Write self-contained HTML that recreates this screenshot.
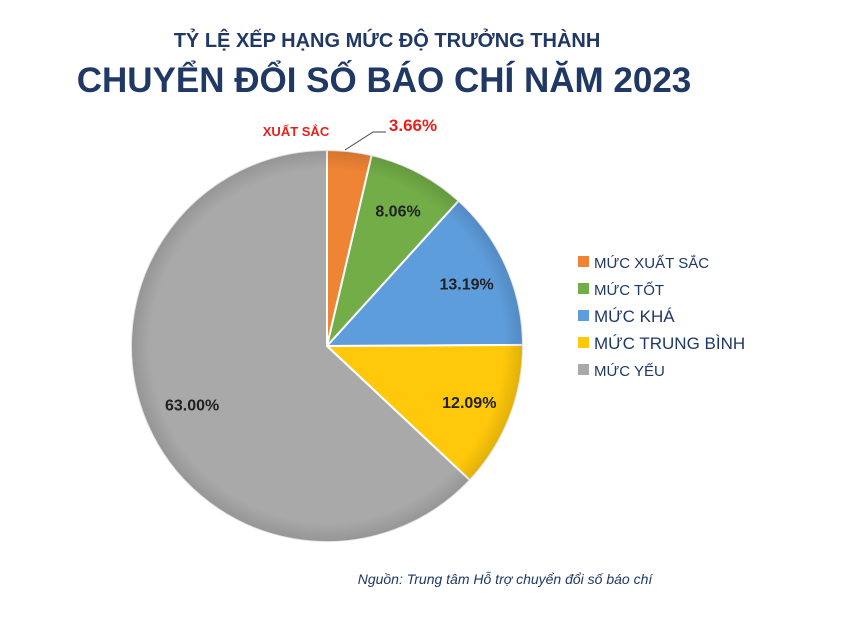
<!DOCTYPE html>
<html><head><meta charset="utf-8"><style>
body{margin:0;background:#fff;width:849px;height:618px;overflow:hidden;font-family:"Liberation Sans","DejaVu Sans",sans-serif}
</style></head><body>
<svg width="849" height="618">
<defs>
<radialGradient id="sh" cx="50%" cy="50%" r="50%"><stop offset="0.9" stop-color="#000" stop-opacity="0"/><stop offset="1" stop-color="#000" stop-opacity="0.12"/></radialGradient>
</defs>
<text x="387" y="47" text-anchor="middle" font-size="20" font-weight="bold" fill="#1f3864">TỶ LỆ XẾP HẠNG MỨC ĐỘ TRƯỞNG THÀNH</text>
<text x="384" y="92" text-anchor="middle" font-size="35" font-weight="bold" fill="#1f3864">CHUYỂN ĐỔI SỐ BÁO CHÍ NĂM 2023</text>
<g id="pie"></g>
<text x="296" y="136" text-anchor="middle" font-size="13" font-weight="bold" fill="#e8201a">XUẤT SẮC</text>
<text x="413" y="131" text-anchor="middle" font-size="17" font-weight="bold" fill="#e8201a">3.66%</text>
<polyline points="345,150 373,132 386,132" fill="none" stroke="#444" stroke-width="1"/>
<g id="legend"></g>
<text x="505" y="584" text-anchor="middle" font-size="14" font-style="italic" fill="#1f3864">Nguồn: Trung tâm Hỗ trợ chuyển đổi số báo chí</text>
</svg>
<script>
const categories=["MỨC XUẤT SẮC","MỨC TỐT","MỨC KHÁ","MỨC TRUNG BÌNH","MỨC YẾU"];
const values=[3.66,8.06,13.19,12.09,63.00];
const labels=["3.66%","8.06%","13.19%","12.09%","63.00%"];
const colors=["#ef8434","#72ad47","#5e9ddc","#ffc80a","#a9a9a9"];
const NS="http://www.w3.org/2000/svg";
const cx=327,cy=346,R=196;
const total=values.reduce((a,b)=>a+b,0);
const pie=document.getElementById('pie');
const pt=(a,r)=>[cx+Math.sin(a)*r,cy-Math.cos(a)*r];
let acc=0;
values.forEach((v,i)=>{
  const a0=acc/total*2*Math.PI;acc+=v;const a1=acc/total*2*Math.PI;
  const [x0,y0]=pt(a0,R),[x1,y1]=pt(a1,R);
  const p=document.createElementNS(NS,'path');
  p.setAttribute('d',`M${cx},${cy}L${x0},${y0}A${R},${R} 0 ${a1-a0>Math.PI?1:0} 1 ${x1},${y1}Z`);
  p.setAttribute('fill',colors[i]);p.setAttribute('stroke','#fff');p.setAttribute('stroke-width','2');
  
  
  pie.appendChild(p);
  if(i>0){
    const am=(a0+a1)/2;const k=i==4?0.75:0.78;const [lx,ly]=pt(am,R*k);
    const t=document.createElementNS(NS,'text');
    t.setAttribute('x',lx);t.setAttribute('y',ly+6);t.setAttribute('text-anchor','middle');
    t.setAttribute('font-size','16');t.setAttribute('font-weight','bold');t.setAttribute('fill','#222');
    t.textContent=labels[i];
    
    
    pie.appendChild(t);
  }
});
const c=document.createElementNS(NS,'circle');
c.setAttribute('cx',cx);c.setAttribute('cy',cy);c.setAttribute('r',R);c.setAttribute('fill','url(#sh)');


pie.appendChild(c);
const lg=document.getElementById('legend');
categories.forEach((n,i)=>{
  const y=262+i*27;
  const r=document.createElementNS(NS,'rect');
  r.setAttribute('x',578);r.setAttribute('y',y-6);r.setAttribute('width',11);r.setAttribute('height',11);r.setAttribute('fill',colors[i]);
  
  
  lg.appendChild(r);
  const t=document.createElementNS(NS,'text');
  t.setAttribute('x',594);t.setAttribute('y',y+6);t.setAttribute('font-size',(i==2||i==3)?'17':'15');t.setAttribute('fill','#1f3864');
  t.textContent=n;
  
  
  lg.appendChild(t);
});
</script>
</body></html>
